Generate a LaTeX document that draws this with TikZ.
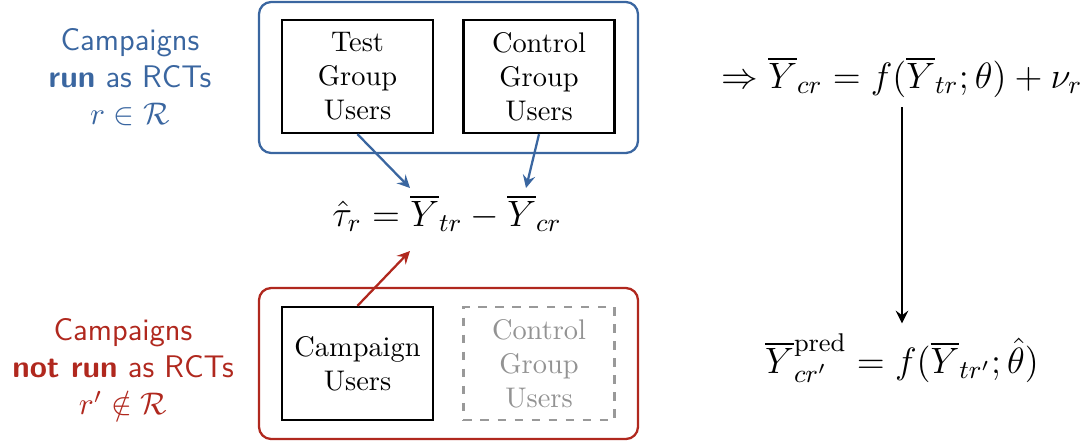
\RequirePackage{fix-cm}
\documentclass[tikz,border=0pt]{standalone}
\usetikzlibrary{arrows.meta}

\definecolor{rctblue}{HTML}{3A66A0}
\definecolor{rctred}{HTML}{B0281E}

\tikzset{
  users/.style={draw, thick, align=center, minimum width=1.87cm, minimum height=1.40cm},
  ghost/.style={users, dashed, gray!80, text=gray!85},
  pane/.style={draw, thick, rounded corners=0.15cm},
  camp/.style={align=center, font=\fontsize{11}{13}\selectfont\sffamily},
  eq/.style={font=\fontsize{12.9}{15}\selectfont, anchor=base},
  flow/.style={-{Stealth[length=4.5pt, width=4.4pt, inset=1.6pt]}, thick},
}

\begin{document}
\begin{tikzpicture}[x=0.01238cm, y=-0.01238cm]
    \useasboundingbox (0,0) rectangle (1092,443);

    % Campaigns run as RCTs
    \draw[pane, rctblue] (259,2) rectangle (638,153);
    \node[users] (test) at (357.5,76.5) {Test\\Group\\Users};
    \node[users] (ctrl) at (539,76.5) {Control\\Group\\Users};
    \node[camp, rctblue] (runlbl) at (130,77) {Campaigns\\\textbf{run} as RCTs\\$r\in\mathcal{R}$};

    % Campaigns not run as RCTs
    \draw[pane, rctred] (259,288) rectangle (638,439);
    \node[users] (camp) at (357.5,363.5) {Campaign\\Users};
    \node[ghost] (ghost) at (539,363.5) {Control\\Group\\Users};
    \node[camp, rctred] (notlbl) at (123,367) {Campaigns\\\textbf{not run} as RCTs\\$r'\notin\mathcal{R}$};

    % Estimates
    \node[eq] (diff) at (447,226) {$\hat{\tau}_r = \overline{Y}_{tr} - \overline{Y}_{cr}$};
    \node[eq] (fit) at (902,88) {$\Rightarrow \overline{Y}_{cr} = f(\overline{Y}_{tr};\theta) + \nu_r$};
    \node[eq] (pred) at (902,373) {$\overline{Y}^{\mathrm{pred}}_{cr'} = f(\overline{Y}_{tr'};\hat{\theta})$};

    % Arrows
    \coordinate (tipT) at (410,188);
    \coordinate (tipC) at (526,188);
    \coordinate (tipR) at (410,251);
    \draw[flow, rctblue] (test.south) -- (tipT);
    \draw[flow, rctblue] (ctrl.south) -- (tipC);
    \draw[flow, rctred] (camp.north) -- (tipR);
    \draw[flow] (fit.south) -- (pred.north);
\end{tikzpicture}
\end{document}
